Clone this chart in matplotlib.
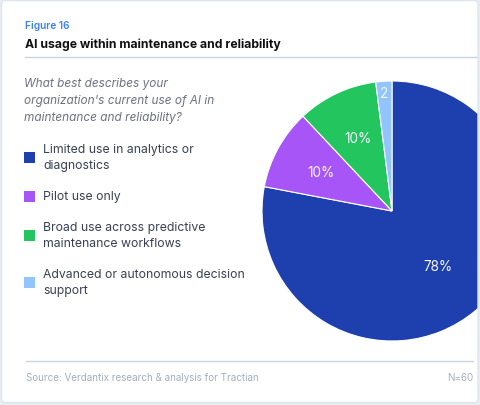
import matplotlib.pyplot as plt
from matplotlib.patches import Rectangle, FancyBboxPatch

# data
categories = ["Limited use in analytics or\ndiagnostics",
              "Pilot use only",
              "Broad use across predictive\nmaintenance workflows",
              "Advanced or autonomous decision\nsupport"]
values = [78, 10, 10, 2]
pct_labels = ["78%", "10%", "10%", "2"]
colors = ["#1e40af", "#a855f7", "#22c55e", "#93c5fd"]

W, H = 480, 406
plt.rcParams['font.family'] = ['Inter', 'DejaVu Sans']

fig = plt.figure(figsize=(W / 100, H / 100), dpi=100)
fig.patch.set_facecolor("#e8edf3")

# background / text layer in pixel coords (y down)
bg = fig.add_axes([0, 0, 1, 1], zorder=0)
bg.set_xlim(0, W)
bg.set_ylim(H, 0)
bg.axis("off")
bg.add_patch(FancyBboxPatch((1.5, 1.5), W - 3.5, H - 4, boxstyle="round,pad=0,rounding_size=4",
                            facecolor="white", edgecolor="none"))

bg.text(25, 26, "Figure 16", color="#3b82f6", fontsize=7.3, fontweight="semibold", va="center")
bg.text(25, 45, "AI usage within maintenance and reliability", color="#111111",
        fontsize=8.8, fontweight="bold", va="center")
bg.plot([25, 478], [58, 58], color="#cbd5e1", lw=1)

question = ["What best describes your", "organization's current use of AI in",
            "maintenance and reliability?"]
for i, line in enumerate(question):
    bg.text(24, 84 + i * 17, line, color="#6b7280", fontsize=8.5, style="italic",
            va="center")

sq_y = [158, 197, 236, 283]
txt_y = [150, 197, 228, 275]
for c, lab, sy, ty in zip(colors, categories, sq_y, txt_y):
    bg.add_patch(Rectangle((24, sy - 5.5), 11, 11, facecolor=c, edgecolor="none"))
    for j, part in enumerate(lab.split("\n")):
        bg.text(43, ty + j * 16, part, color="#374151", fontsize=8.8, va="center")

bg.plot([26, 473], [362, 362], color="#cbd5e1", lw=1)
bg.text(26, 378, "Source: Verdantix research & analysis for Tractian", color="#a3aec0",
        fontsize=7.1, va="center")
bg.text(473, 378, "N=60", color="#a3aec0", fontsize=7.1, va="center", ha="right")

# pie
cx, cy, r = 392, 212, 130
ax = fig.add_axes([(cx - r) / W, (H - cy - r) / H, 2 * r / W, 2 * r / H], zorder=1)
wedges, texts = ax.pie(values, colors=colors, startangle=90, counterclock=False,
                       labels=pct_labels, labeldistance=0.6,
                       textprops=dict(color="#f5f7ff", fontsize=9.8),
                       wedgeprops=dict(linewidth=0.8, edgecolor="white"))
for t, d in zip(texts, [0.55, 0.62, 0.62, 0.91]):
    x, y = t.get_position()
    t.set_position((x / 0.6 * d, y / 0.6 * d))
    t.set_ha("center")
    t.set_va("center")
ax.set_xlim(-1, 1)
ax.set_ylim(-1, 1)
ax.set_aspect("equal")

# card border overlay
top = fig.add_axes([0, 0, 1, 1], zorder=2)
top.set_xlim(0, W)
top.set_ylim(H, 0)
top.axis("off")
top.add_patch(Rectangle((478, 0), 2, H, facecolor="#e8edf3", edgecolor="none"))
top.add_patch(FancyBboxPatch((1.5, 1.5), W - 3.5, H - 4, boxstyle="round,pad=0,rounding_size=4",
                             facecolor="none", edgecolor="#dfe5ee", lw=1))

fig.savefig("out.png", dpi=100)
